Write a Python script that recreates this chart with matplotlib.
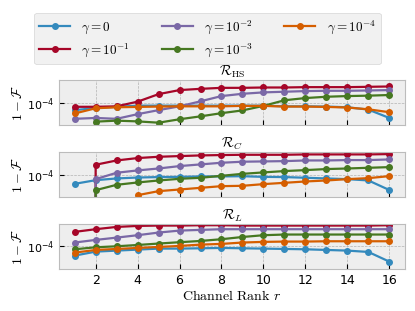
import numpy as np
import matplotlib
matplotlib.use('Agg')
import matplotlib.pyplot as plt
from matplotlib.ticker import NullLocator, LogLocator

plt.style.use('bmh')

# channel rank
r = np.arange(1, 17)

labels = [r'$\gamma=0$', r'$\gamma=10^{-1}$', r'$\gamma=10^{-2}$',
          r'$\gamma=10^{-3}$', r'$\gamma=10^{-4}$']
titles = [r'$\mathcal{R}_{\mathrm{HS}}$', r'$\mathcal{R}_C$', r'$\mathcal{R}_L$']

# 1 - F, order: gamma = 0, 1e-1, 1e-2, 1e-3, 1e-4  (0 -> not available)
hs_g0 = [6.9e-5, 7.7e-5, 8.2e-5, 8.7e-5, 8.7e-5, 8.7e-5, 8.7e-5, 8.7e-5,
         8.7e-5, 8.7e-5, 8.4e-5, 8.4e-5, 8.3e-5, 8.0e-5, 7.1e-5, 4.6e-5]
hs_g1 = [8.2e-5, 8.2e-5, 8.4e-5, 1.07e-4, 1.58e-4, 1.95e-4, 2.08e-4, 2.19e-4,
         2.19e-4, 2.23e-4, 2.23e-4, 2.27e-4, 2.27e-4, 2.27e-4, 2.31e-4, 2.35e-4]
hs_g2 = [4.4e-5, 4.6e-5, 4.4e-5, 5.6e-5, 6.9e-5, 8.4e-5, 1.09e-4, 1.43e-4,
         1.61e-4, 1.73e-4, 1.79e-4, 1.85e-4, 1.88e-4, 1.88e-4, 1.91e-4, 1.95e-4]
hs_g3 = [0, 3.8e-5, 4.0e-5, 3.85e-5, 3.6e-5, 4.3e-5, 5.0e-5, 5.9e-5,
         6.8e-5, 8.6e-5, 1.15e-4, 1.29e-4, 1.38e-4, 1.43e-4, 1.46e-4, 1.51e-4]
hs_g4 = [5.8e-5, 7.6e-5, 8.0e-5, 8.15e-5, 8.3e-5, 8.4e-5, 8.4e-5, 8.4e-5,
         8.6e-5, 8.6e-5, 8.3e-5, 8.3e-5, 8.15e-5, 7.9e-5, 7.2e-5, 6.2e-5]

c_g0 = [6.3e-5, 7.6e-5, 8.3e-5, 8.7e-5, 8.9e-5, 9.0e-5, 9.2e-5, 9.2e-5,
        9.3e-5, 9.0e-5, 8.9e-5, 8.6e-5, 8.3e-5, 8.0e-5, 7.5e-5, 4.6e-5]
c_g1 = [0, 1.67e-4, 2.08e-4, 2.35e-4, 2.51e-4, 2.60e-4, 2.69e-4, 2.74e-4,
        2.78e-4, 2.78e-4, 2.78e-4, 2.83e-4, 2.83e-4, 2.83e-4, 2.83e-4, 2.88e-4]
c_g2 = [0, 8.0e-5, 1.11e-4, 1.25e-4, 1.38e-4, 1.56e-4, 1.70e-4, 1.85e-4,
        1.95e-4, 1.98e-4, 2.01e-4, 2.08e-4, 2.08e-4, 2.12e-4, 2.12e-4, 2.19e-4]
c_g3 = [0, 4.56e-5, 6.0e-5, 6.76e-5, 7.48e-5, 8.15e-5, 8.58e-5, 9.5e-5,
        1.05e-4, 1.13e-4, 1.21e-4, 1.27e-4, 1.34e-4, 1.38e-4, 1.43e-4, 1.48e-4]
c_g4 = [0, 0, 0, 3.53e-5, 4.34e-5, 4.72e-5, 5.14e-5, 5.6e-5,
        5.7e-5, 6.21e-5, 6.64e-5, 7.11e-5, 7.48e-5, 8.01e-5, 8.43e-5, 9.34e-5]

l_g0 = [6.1e-5, 7.48e-5, 7.88e-5, 8.29e-5, 8.73e-5, 8.73e-5, 8.87e-5, 9.03e-5,
        8.87e-5, 8.73e-5, 8.58e-5, 8.43e-5, 8.15e-5, 7.88e-5, 7.36e-5, 4.49e-5]
l_g1 = [2.05e-4, 2.35e-4, 2.64e-4, 2.78e-4, 2.83e-4, 2.83e-4, 2.88e-4, 2.88e-4,
        2.83e-4, 2.83e-4, 2.83e-4, 2.83e-4, 2.83e-4, 2.83e-4, 2.83e-4, 2.88e-4]
l_g2 = [1.19e-4, 1.36e-4, 1.53e-4, 1.73e-4, 1.98e-4, 2.19e-4, 2.27e-4, 2.35e-4,
        2.35e-4, 2.35e-4, 2.35e-4, 2.35e-4, 2.35e-4, 2.35e-4, 2.35e-4, 2.35e-4]
l_g3 = [8.43e-5, 9.34e-5, 9.83e-5, 1.05e-4, 1.13e-4, 1.21e-4, 1.29e-4, 1.41e-4,
        1.58e-4, 1.73e-4, 1.79e-4, 1.79e-4, 1.79e-4, 1.79e-4, 1.79e-4, 1.79e-4]
l_g4 = [7.11e-5, 8.15e-5, 8.58e-5, 9.03e-5, 9.5e-5, 1.0e-4, 1.07e-4, 1.11e-4,
        1.19e-4, 1.23e-4, 1.25e-4, 1.25e-4, 1.27e-4, 1.27e-4, 1.27e-4, 1.27e-4]

panels = [[hs_g0, hs_g1, hs_g2, hs_g3, hs_g4],
          [c_g0, c_g1, c_g2, c_g3, c_g4],
          [l_g0, l_g1, l_g2, l_g3, l_g4]]
ylims = [(3.19e-5, 3.30e-4), (3.19e-5, 3.19e-4), (3.03e-5, 3.03e-4)]

fig, axes = plt.subplots(3, 1, sharex=True, figsize=(4.15, 3.11), dpi=100)
fig.subplots_adjust(left=0.142, right=0.976, top=0.743, bottom=0.134, hspace=0.6)

for ax, data, title, yl in zip(axes, panels, titles, ylims):
    for y, lab in zip(data, labels):
        ax.plot(r, y, marker='o', markersize=4, linewidth=1.6, label=lab)
    ax.set_yscale('log')
    ax.set_ylim(yl)
    ax.yaxis.set_major_locator(LogLocator(base=10, numticks=10))
    ax.yaxis.set_minor_locator(NullLocator())
    ax.set_title(title, fontsize=10, pad=3)
    ax.set_ylabel(r'$1-\mathcal{F}$', fontsize=10, labelpad=1)
    ax.tick_params(axis='x', labelsize=9)
    ax.tick_params(axis='y', labelsize=8)

axes[-1].set_xlabel(r'Channel Rank $r$', fontfamily='cmr10', fontsize=10, labelpad=1)
fig.align_ylabels(axes)

handles, labs = axes[0].get_legend_handles_labels()
fig.legend(handles, labs, loc='upper center', bbox_to_anchor=(0.5, 0.98),
           ncol=3, fontsize=9.5, handlelength=2.35, handletextpad=0.85,
           columnspacing=2.4, labelspacing=0.45)

plt.savefig('out.png', dpi=100)
